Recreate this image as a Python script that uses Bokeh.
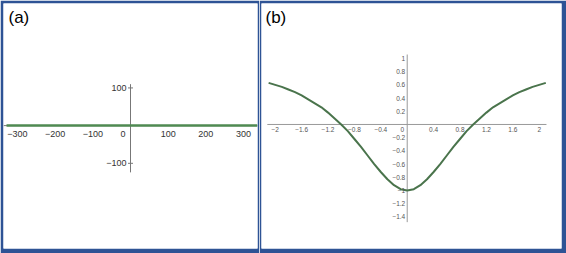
from bokeh.plotting import figure
from bokeh.layouts import row
from bokeh.models import Label, Range1d
from bokeh.core.properties import value
from bokeh.embed import file_html
from bokeh.resources import INLINE

# ---------- data: panel (a) ----------
a_line_x = [-329, 337]
a_line_y = [0, 0]
a_xticks = [-300, -200, -100, 100, 200, 300]
a_xlabels = ["\u2212300", "\u2212200", "\u2212100", "100", "200", "300"]
a_yticks = [100, -100]
a_ylabels = ["100", "\u2212100"]
a_yaxis_extent = [-124, 110]
a_xaxis_extent = [-337, 337]

# ---------- data: panel (b) ----------
b_x = [-2.1, -2.0, -1.9, -1.8, -1.7, -1.6, -1.5, -1.4, -1.3, -1.2, -1.1, -1.0,
       -0.9, -0.8, -0.7, -0.6, -0.5, -0.4, -0.3, -0.2, -0.1, 0.0,
       0.1, 0.2, 0.3, 0.4, 0.5, 0.6, 0.7, 0.8, 0.9,
       1.0, 1.1, 1.2, 1.3, 1.4, 1.5, 1.6, 1.7, 1.8, 1.9, 2.0, 2.1]
b_y = [0.63, 0.60, 0.57, 0.53, 0.49, 0.44, 0.38, 0.32, 0.26, 0.18, 0.09, 0.00,
       -0.10, -0.22, -0.34, -0.47, -0.60, -0.72, -0.83, -0.92, -0.98, -1.00,
       -0.98, -0.92, -0.83, -0.72, -0.60, -0.47, -0.34, -0.22, -0.10,
       0.00, 0.09, 0.18, 0.26, 0.32, 0.38, 0.44, 0.49, 0.53, 0.57, 0.60, 0.63]
b_xticks = [-2, -1.6, -1.2, -0.8, -0.4, 0.4, 0.8, 1.2, 1.6, 2]
b_xlabels = ["\u22122", "\u22121.6", "\u22121.2", "\u22120.8", "\u22120.4",
             "0.4", "0.8", "1.2", "1.6", "2"]
b_yticks = [1, 0.8, 0.6, 0.4, 0.2, -0.2, -0.4, -0.6, -0.8, -1, -1.2, -1.4]
b_ylabels = ["1", "0.8", "0.6", "0.4", "0.2", "\u22120.2", "\u22120.4", "\u22120.6",
             "\u22120.8", "\u22121", "\u22121.2", "\u22121.4"]
b_yaxis_extent = [-1.48, 1.06]
b_xaxis_extent = [-2.12, 2.11]

BLUE = "#2e5395"
FONT = value("Liberation Sans")


def make_fig(width, left, right, xr, yr):
    p = figure(width=width, height=253, output_backend="svg", toolbar_location=None,
               x_axis_type=None, y_axis_type=None,
               x_range=Range1d(*xr), y_range=Range1d(*yr),
               min_border_left=left, min_border_right=right,
               min_border_top=3, min_border_bottom=5)
    p.border_fill_color = BLUE
    p.background_fill_color = "white"
    p.outline_line_color = None
    p.grid.visible = False
    return p


# ---------- panel (a) ----------
pa = make_fig(259, 3, 2, (-337, 337), (-326, 324))
pa.line(a_xaxis_extent, [0, 0], line_color="#777777", line_width=1)
pa.line([0, 0], a_yaxis_extent, line_color="#777777", line_width=1)
pa.dash(x=[0] * len(a_yticks), y=a_yticks, size=5, line_color="#777777", line_width=1)
pa.line(a_line_x, a_line_y, line_color="#4f8a52", line_width=2.5)
pa.text(x=a_xticks, y=[0] * len(a_xticks), text=a_xlabels, text_font=FONT,
        text_font_size="9px", text_color="#333333", text_align="center",
        text_baseline="top", y_offset=5)
pa.text(x=[0], y=[0], text=["0"], text_font=FONT, text_font_size="9px",
        text_color="#333333", text_align="right", text_baseline="top",
        x_offset=-5, y_offset=5)
pa.text(x=[0] * len(a_yticks), y=a_yticks, text=a_ylabels, text_font=FONT,
        text_font_size="9px", text_color="#333333", text_align="right",
        text_baseline="middle", x_offset=-4)
pa.add_layout(Label(x=5, y=241, x_units="screen", y_units="screen", text="(a)",
                    text_font="Liberation Sans", text_font_size="17px",
                    text_color="black", text_baseline="top"))

# ---------- panel (b) ----------
pb = make_fig(307, 2, 5, (-2.208, 2.338), (-1.879, 1.833))
pb.line(b_xaxis_extent, [0, 0], line_color="#9a9a9a", line_width=1)
pb.line([0, 0], b_yaxis_extent, line_color="#9a9a9a", line_width=1)
pb.line(b_x, b_y, line_color="#4a744c", line_width=2, line_join="round")
pb.text(x=b_xticks, y=[0] * len(b_xticks), text=b_xlabels, text_font=FONT,
        text_font_size="6.5px", text_color="#555555", text_align="center",
        text_baseline="top", y_offset=3)
pb.text(x=[0], y=[0], text=["0"], text_font=FONT, text_font_size="6.5px",
        text_color="#555555", text_align="right", text_baseline="top",
        x_offset=-3, y_offset=3)
pb.text(x=[0] * len(b_yticks), y=b_yticks, text=b_ylabels, text_font=FONT,
        text_font_size="6.5px", text_color="#555555", text_align="right",
        text_baseline="middle", x_offset=-2)
pb.add_layout(Label(x=4, y=241, x_units="screen", y_units="screen", text="(b)",
                    text_font="Liberation Sans", text_font_size="17px",
                    text_color="black", text_baseline="top"))

layout = row(pa, pb, spacing=0)
open("out.html", "w").write(file_html(layout, INLINE))
